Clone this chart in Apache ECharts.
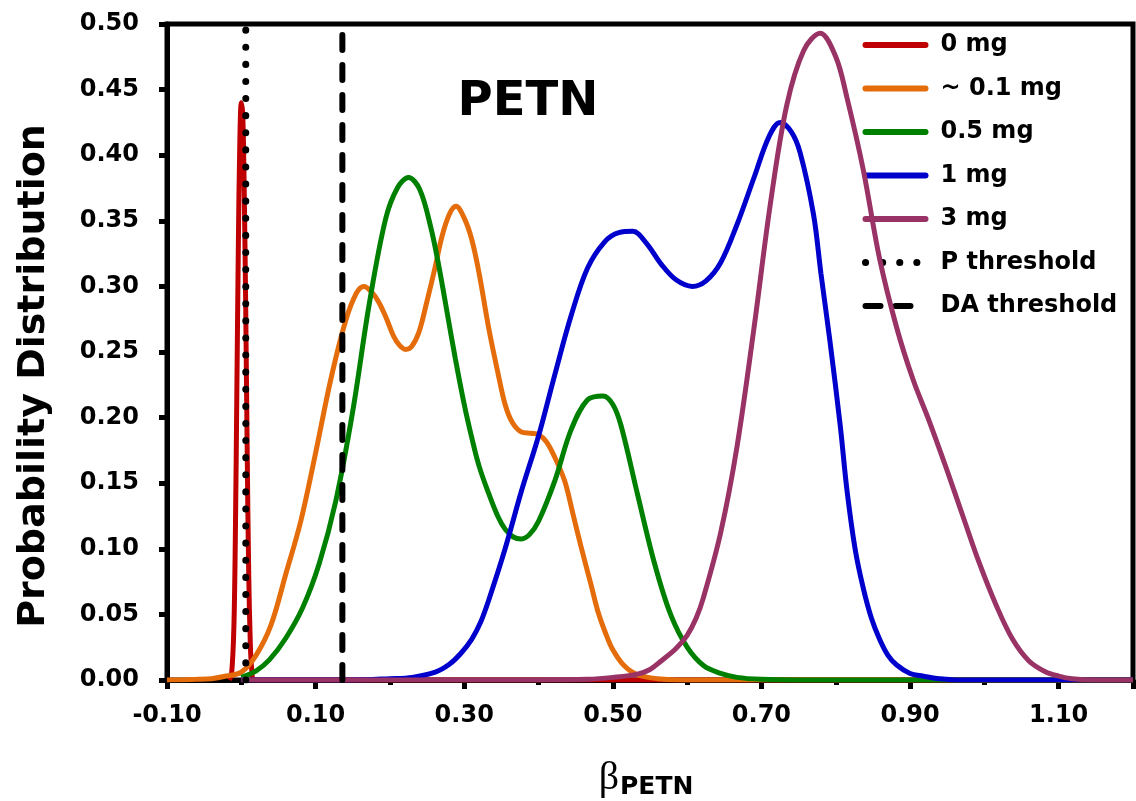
<!DOCTYPE html>
<html>
<head>
<meta charset="utf-8">
<script src="https://cdn.jsdelivr.net/npm/echarts@6/dist/echarts.min.js"></script>
<style>
  html, body { margin: 0; padding: 0; background: #fff; }
  #chart { width: 1136px; height: 801px; }
</style>
</head>
<body>
<div id="chart"></div>
<script>
// beta values (x) and probability (y)
const seriesNames = ["0 mg", "~ 0.1 mg", "0.5 mg", "1 mg", "3 mg", "P threshold", "DA threshold"];
const seriesColors = ["#C00000", "#E46C0A", "#008000", "#0000CC", "#993366"];

const dose0 = [
  [-0.016, 0], [-0.013, 0.005], [-0.010, 0.04], [-0.008, 0.11], [-0.006, 0.22],
  [-0.004, 0.33], [-0.002, 0.41], [0.000, 0.44], [0.002, 0.43], [0.004, 0.37],
  [0.006, 0.28], [0.008, 0.17], [0.010, 0.08], [0.012, 0.03], [0.014, 0.008],
  [0.017, 0], [0.05, 0], [1.2, 0]
];
const dose01 = [
  [-0.10, 0], [-0.06, 0.0005], [-0.04, 0.001], [-0.02, 0.003], [0.00, 0.006],
  [0.02, 0.019], [0.04, 0.042], [0.06, 0.081], [0.08, 0.121], [0.10, 0.173],
  [0.12, 0.228], [0.14, 0.273], [0.155, 0.295], [0.165, 0.300], [0.175, 0.296],
  [0.185, 0.288], [0.195, 0.276], [0.205, 0.262], [0.213, 0.255], [0.221, 0.252],
  [0.229, 0.254], [0.239, 0.265], [0.25, 0.289], [0.261, 0.315], [0.27, 0.338],
  [0.28, 0.355], [0.289, 0.361], [0.30, 0.352], [0.31, 0.336], [0.32, 0.310],
  [0.333, 0.268], [0.345, 0.235], [0.355, 0.210], [0.365, 0.196], [0.377, 0.189],
  [0.39, 0.188], [0.40, 0.187], [0.41, 0.182], [0.42, 0.172], [0.435, 0.152],
  [0.447, 0.125], [0.457, 0.102], [0.47, 0.074], [0.48, 0.052], [0.49, 0.036],
  [0.50, 0.023], [0.515, 0.011], [0.533, 0.004], [0.56, 0.001], [0.60, 0], [1.2, 0]
];
const dose05 = [
  [0.00, 0.002], [0.02, 0.007], [0.038, 0.0155], [0.06, 0.032], [0.0825, 0.055],
  [0.105, 0.089], [0.127, 0.136], [0.15, 0.205], [0.172, 0.286], [0.194, 0.351],
  [0.21, 0.375], [0.225, 0.383], [0.24, 0.374], [0.255, 0.345], [0.266, 0.315],
  [0.277, 0.28], [0.288, 0.245], [0.30, 0.21], [0.31, 0.185], [0.32, 0.163],
  [0.333, 0.142], [0.345, 0.125], [0.355, 0.115], [0.366, 0.109], [0.377, 0.1075],
  [0.388, 0.111], [0.40, 0.121], [0.422, 0.152], [0.444, 0.191], [0.466, 0.2136],
  [0.487, 0.2165], [0.50, 0.210], [0.511, 0.194], [0.533, 0.142], [0.556, 0.089],
  [0.578, 0.0496], [0.60, 0.025], [0.622, 0.011], [0.645, 0.005], [0.667, 0.002],
  [0.70, 0.0005], [0.75, 0], [1.2, 0]
];
const dose1 = [
  [0.00, 0], [0.15, 0], [0.20, 0.001], [0.23, 0.002], [0.261, 0.006],
  [0.28, 0.012], [0.295, 0.020], [0.31, 0.031], [0.322, 0.044], [0.333, 0.061],
  [0.355, 0.100], [0.377, 0.144], [0.40, 0.186], [0.422, 0.233], [0.444, 0.278],
  [0.466, 0.314], [0.489, 0.334], [0.508, 0.341], [0.527, 0.342], [0.545, 0.333],
  [0.565, 0.317], [0.585, 0.305], [0.607, 0.300], [0.625, 0.304], [0.645, 0.318],
  [0.667, 0.347], [0.69, 0.383], [0.71, 0.414], [0.725, 0.425], [0.74, 0.418],
  [0.752, 0.402], [0.77, 0.355], [0.78, 0.31], [0.792, 0.259], [0.806, 0.194],
  [0.815, 0.145], [0.826, 0.100], [0.837, 0.070], [0.848, 0.047], [0.859, 0.031],
  [0.87, 0.019], [0.882, 0.0114], [0.90, 0.005], [0.917, 0.003], [0.94, 0.001],
  [0.97, 0], [1.2, 0]
];
const dose3 = [
  [0.00, 0], [0.40, 0], [0.466, 0.0005], [0.50, 0.002], [0.533, 0.0045],
  [0.55, 0.008], [0.565, 0.0145], [0.585, 0.024], [0.60, 0.034], [0.612, 0.047],
  [0.622, 0.063], [0.645, 0.112], [0.667, 0.1775], [0.69, 0.2685], [0.712, 0.363],
  [0.734, 0.438], [0.757, 0.480], [0.779, 0.493], [0.80, 0.475], [0.815, 0.444],
  [0.837, 0.389], [0.859, 0.321], [0.882, 0.2685], [0.904, 0.229], [0.926, 0.197],
  [0.949, 0.161], [0.971, 0.125], [0.993, 0.0894], [1.016, 0.0568], [1.038, 0.031],
  [1.06, 0.0145], [1.082, 0.0063], [1.10, 0.003], [1.118, 0.001], [1.15, 0], [1.2, 0]
];
const pThreshold = 0.006;
const daThreshold = 0.136;

const curves = [dose0, dose01, dose05, dose1, dose3];

const chart = echarts.init(document.getElementById("chart"));

const font = "DejaVu Sans";
const dotStyle = { color: "#000", width: 7, type: [0.1, 17], cap: "round" };
const dashStyle = { color: "#000", width: 6, type: [15, 15], cap: "round" };

const series = curves.map((d, i) => ({
  name: seriesNames[i],
  type: "line",
  data: d,
  symbol: "none",
  smooth: 0.35,
  lineStyle: { color: seriesColors[i], width: 5 },
  itemStyle: { color: seriesColors[i] },
  z: 2 + i
}));

series.push({
  name: seriesNames[5],
  type: "line",
  data: [[pThreshold, 0], [pThreshold, 0.5]],
  symbol: "none",
  lineStyle: dotStyle,
  itemStyle: { color: "#000" },
  z: 10
});
series.push({
  name: seriesNames[6],
  type: "line",
  data: [[daThreshold, 0], [daThreshold, 0.5]],
  symbol: "none",
  lineStyle: dashStyle,
  itemStyle: { color: "#000" },
  z: 10
});

const legendData = seriesNames.map((n, i) => ({
  name: n,
  itemStyle: { opacity: 0 },
  lineStyle: i < 5
    ? { color: seriesColors[i], width: 6, cap: "round" }
    : (i === 5 ? dotStyle : dashStyle)
}));

chart.setOption({
  animation: false,
  grid: {
    left: 167, right: 3, top: 24, bottom: 121,
    show: true, borderColor: "#000", borderWidth: 5
  },
  legend: {
    orient: "vertical",
    left: 857, top: 28,
    itemWidth: 60, itemHeight: 24, itemGap: 19.5,
    data: legendData,
    textStyle: {
      fontFamily: font, fontWeight: "bold", fontSize: 24, color: "#000",
      padding: [0, 0, 0, 10]
    }
  },
  xAxis: {
    type: "value",
    min: -0.1, max: 1.2, interval: 0.2,
    axisLine: { show: true, onZero: false, lineStyle: { color: "#000", width: 5 } },
    axisTick: { show: true, length: 9, lineStyle: { color: "#000", width: 5 } },
    minorTick: { show: true, splitNumber: 2, length: 5, lineStyle: { color: "#000", width: 5 } },
    splitLine: { show: false },
    axisLabel: {
      margin: 24, showMaxLabel: false,
      fontFamily: font, fontWeight: "bold", fontSize: 24, color: "#000",
      formatter: v => v.toFixed(2)
    }
  },
  yAxis: {
    type: "value",
    min: 0, max: 0.5, interval: 0.05,
    axisLine: { show: true, onZero: false, lineStyle: { color: "#000", width: 5 } },
    axisTick: { show: true, length: 8, lineStyle: { color: "#000", width: 5 } },
    splitLine: { show: false },
    axisLabel: {
      margin: 28,
      fontFamily: font, fontWeight: "bold", fontSize: 24, color: "#000",
      formatter: v => v.toFixed(2)
    }
  },
  graphic: [
    {
      type: "text", x: 34, y: 376, rotation: Math.PI / 2,
      style: {
        text: "Probability Distribution", fill: "#000",
        font: "bold 38px 'DejaVu Sans'", align: "center", verticalAlign: "middle"
      }
    },
    {
      type: "text", x: 619, y: 778,
      style: {
        text: "β", fill: "#000",
        font: "40px 'Liberation Serif'", align: "right", verticalAlign: "middle"
      }
    },
    {
      type: "text", x: 620, y: 787,
      style: {
        text: "PETN", fill: "#000",
        font: "bold 25px 'DejaVu Sans'", align: "left", verticalAlign: "middle"
      }
    },
    {
      type: "text", x: 528, y: 103,
      style: {
        text: "PETN", fill: "#000",
        font: "bold 48px 'DejaVu Sans'", align: "center", verticalAlign: "middle"
      }
    }
  ],
  series: series
});
</script>
</body>
</html>
